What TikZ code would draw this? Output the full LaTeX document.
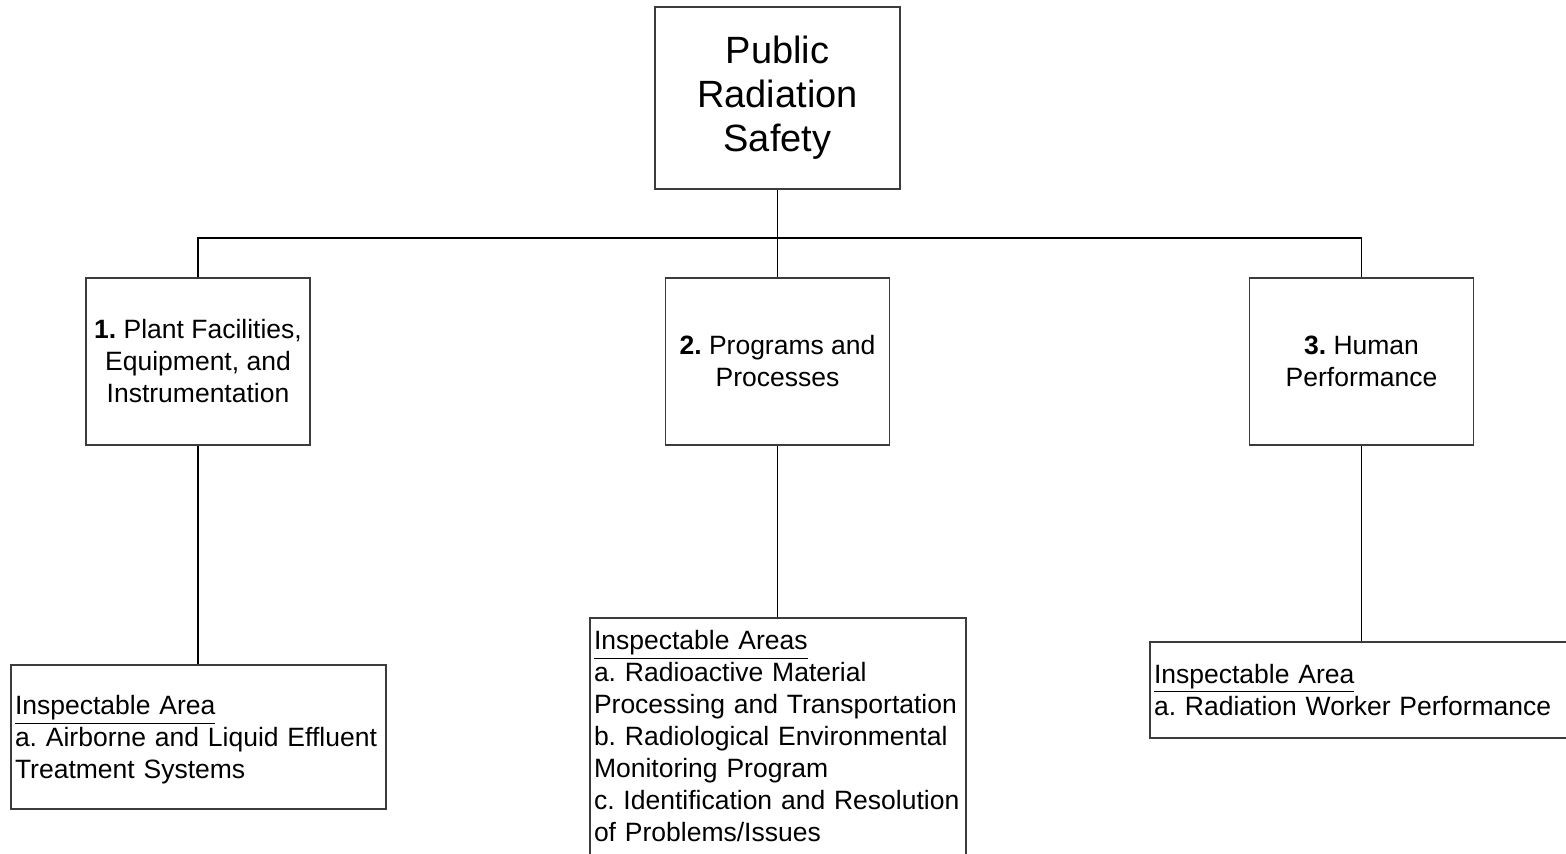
\documentclass[tikz,border=0pt]{standalone}
\usepackage{fontspec}
\setmainfont{Liberation Sans}
\definecolor{boxline}{HTML}{3C3C3C}
\newcommand\mynohyph{\hyphenpenalty=10000\relax\exhyphenpenalty=10000\relax}
\begin{document}
\begin{tikzpicture}[x=0.5pt,y=-0.5pt,
  box/.style={draw=boxline,line width=0.6pt,fill=white,inner sep=2.5pt},
  smallfont/.style={font=\fontsize{13.25pt}{16pt}\selectfont\frenchspacing\mynohyph},
  catbox/.style={box,smallfont,align=center,minimum width=112pt,minimum height=83.5pt},
  areabox/.style={box,smallfont,align=left,inner xsep=2pt},
  link/.style={draw=black,line width=0.6pt}]
\clip (0,0) rectangle (1566,854);
\fill[white] (0,0) rectangle (1566,854);
\node[box,align=center,minimum width=122.5pt,minimum height=91pt,font=\fontsize{19pt}{22pt}\selectfont] (top) at (777.5,98) {Public\\Radiation\\Safety};
\node[catbox] (b1) at (198,361.5) {\textbf{1.} Plant Facilities,\\Equipment, and\\Instrumentation};
\node[catbox] (b2) at (777.5,361.5) {\textbf{2.} Programs and\\Processes};
\node[catbox] (b3) at (1361.5,361.5) {\textbf{3.} Human\\Performance};
\node[areabox,minimum height=72pt,text width=183.5pt] (i1) at (198.5,737) {\rule{0pt}{12.7pt}\underline{Inspectable Area}\\a. Airborne and Liquid Effluent\\Treatment Systems};
\node[areabox,minimum height=118.5pt,text width=184pt] (i2) at (778,736.5) {\underline{Inspectable Areas}\\a. Radioactive Material\\Processing and Transportation\\b. Radiological Environmental\\Monitoring Program\\c. Identification and Resolution\\of Problems/Issues};
\node[areabox,minimum height=48pt,text width=207pt] (i3) at (1361,690) {\underline{Inspectable Area}\\a. Radiation Worker Performance};
\coordinate (busL) at (198,238);
\coordinate (busR) at (1361.5,238);
\draw[link] (b1.north) -- (busL) -- (busR) -- (b3.north);
\draw[link] (top.south) -- (top.south |- busL);
\draw[link] (b2.north) -- (b2.north |- busL);
\draw[link] (b1.south) -- (i1.north -| b1.south);
\draw[link] (b2.south) -- (i2.north -| b2.south);
\draw[link] (b3.south) -- (i3.north -| b3.south);
\end{tikzpicture}
\end{document}
